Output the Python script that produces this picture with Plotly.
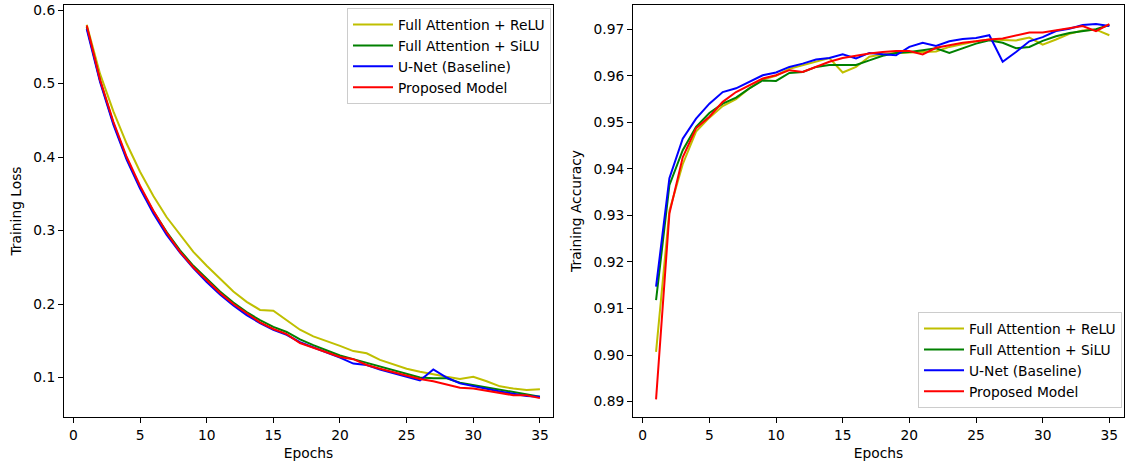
import plotly.graph_objects as go

epochs = list(range(1, 36))

loss_relu = [0.580, 0.513, 0.462, 0.418, 0.380, 0.347, 0.318, 0.294, 0.271, 0.252,
             0.235, 0.217, 0.203, 0.192, 0.191, 0.178, 0.165, 0.156, 0.150, 0.143,
             0.136, 0.133, 0.124, 0.118, 0.112, 0.108, 0.104, 0.101, 0.098, 0.101,
             0.095, 0.088, 0.085, 0.083, 0.084]
loss_silu = [0.577, 0.504, 0.446, 0.398, 0.359, 0.326, 0.298, 0.273, 0.252, 0.234,
             0.217, 0.202, 0.189, 0.178, 0.169, 0.162, 0.152, 0.144, 0.137, 0.130,
             0.125, 0.120, 0.116, 0.110, 0.105, 0.100, 0.099, 0.099, 0.093, 0.090,
             0.087, 0.084, 0.081, 0.078, 0.074]
loss_unet = [0.574, 0.502, 0.444, 0.396, 0.357, 0.323, 0.294, 0.270, 0.249, 0.230,
             0.213, 0.198, 0.185, 0.174, 0.165, 0.158, 0.148, 0.141, 0.135, 0.127,
             0.119, 0.117, 0.111, 0.106, 0.101, 0.096, 0.111, 0.100, 0.092, 0.088,
             0.085, 0.081, 0.078, 0.075, 0.074]
loss_proposed = [0.579, 0.505, 0.448, 0.400, 0.361, 0.327, 0.297, 0.271, 0.250, 0.232,
                 0.215, 0.200, 0.187, 0.175, 0.166, 0.159, 0.147, 0.141, 0.135, 0.128,
                 0.125, 0.117, 0.112, 0.107, 0.102, 0.098, 0.095, 0.090, 0.086, 0.085,
                 0.082, 0.079, 0.076, 0.076, 0.072]

acc_relu = [0.9007, 0.9310, 0.9410, 0.9480, 0.9510, 0.9535, 0.9550, 0.9573, 0.9592, 0.9600,
            0.9615, 0.9623, 0.9630, 0.9638, 0.9607, 0.9619, 0.9641, 0.9646, 0.9649, 0.9650,
            0.9652, 0.9652, 0.9662, 0.9668, 0.9674, 0.9678, 0.9677, 0.9676, 0.9682, 0.9667,
            0.9678, 0.9690, 0.9697, 0.9699, 0.9687]
acc_silu = [0.9118, 0.9365, 0.9440, 0.9490, 0.9520, 0.9540, 0.9553, 0.9573, 0.9590, 0.9589,
            0.9606, 0.9608, 0.9619, 0.9623, 0.9623, 0.9623, 0.9633, 0.9643, 0.9649, 0.9651,
            0.9655, 0.9659, 0.9649, 0.9659, 0.9669, 0.9676, 0.9671, 0.9659, 0.9662, 0.9675,
            0.9685, 0.9692, 0.9696, 0.9700, 0.9709]
acc_unet = [0.9147, 0.9380, 0.9465, 0.9508, 0.9540, 0.9565, 0.9573, 0.9587, 0.9601, 0.9607,
            0.9619, 0.9626, 0.9635, 0.9638, 0.9646, 0.9637, 0.9649, 0.9646, 0.9644, 0.9662,
            0.9671, 0.9664, 0.9674, 0.9679, 0.9681, 0.9687, 0.9630, 0.9651, 0.9674, 0.9683,
            0.9696, 0.9701, 0.9709, 0.9711, 0.9707]
acc_proposed = [0.8905, 0.9304, 0.9425, 0.9487, 0.9512, 0.9544, 0.9565, 0.9580, 0.9594, 0.9601,
                0.9612, 0.9608, 0.9619, 0.9630, 0.9638, 0.9643, 0.9648, 0.9651, 0.9653, 0.9653,
                0.9646, 0.9660, 0.9666, 0.9671, 0.9674, 0.9678, 0.9680, 0.9687, 0.9693, 0.9693,
                0.9698, 0.9703, 0.9707, 0.9696, 0.9711]

names = ["Full Attention + ReLU", "Full Attention + SiLU", "U-Net (Baseline)", "Proposed Model"]
colors = ["#bfbf00", "#008000", "#0000ff", "#ff0000"]
loss_series = [loss_relu, loss_silu, loss_unet, loss_proposed]
acc_series = [acc_relu, acc_silu, acc_unet, acc_proposed]

W, H = 1128, 467
FONT = "DejaVu Sans"
FS = 13.8

fig = go.Figure()
for name, col, ys in zip(names, colors, loss_series):
    fig.add_trace(go.Scatter(x=epochs, y=ys, mode="lines", name=name,
                             line=dict(color=col, width=2), xaxis="x", yaxis="y",
                             legend="legend"))
for name, col, ys in zip(names, colors, acc_series):
    fig.add_trace(go.Scatter(x=epochs, y=ys, mode="lines", name=name,
                             line=dict(color=col, width=2), xaxis="x2", yaxis="y2",
                             legend="legend2"))

axis_common = dict(showline=True, mirror=True, linecolor="black", linewidth=1,
                   ticks="outside", ticklen=5, tickwidth=1, tickcolor="black",
                   showgrid=False, zeroline=False, automargin=False,
                   tickfont=dict(family=FONT, size=FS, color="black"))

fig.update_layout(
    width=W, height=H,
    margin=dict(l=0, r=0, t=5, b=50),
    paper_bgcolor="white", plot_bgcolor="white",
    font=dict(family=FONT, size=FS, color="black"),
    xaxis=dict(domain=[64 / W, 553 / W], range=[-0.705, 35.98],
               tickvals=[0, 5, 10, 15, 20, 25, 30, 35],
               title=dict(text="Epochs", font=dict(size=FS), standoff=6),
               anchor="y", **axis_common),
    yaxis=dict(domain=[0, 1], range=[0.0463, 0.6068],
               tickvals=[0.1, 0.2, 0.3, 0.4, 0.5, 0.6],
               tickformat=".1f",
               title=dict(text="Training Loss", font=dict(size=FS), standoff=8),
               anchor="x", **axis_common),
    xaxis2=dict(domain=[633 / W, 1124 / W], range=[-0.73, 36.1],
                tickvals=[0, 5, 10, 15, 20, 25, 30, 35],
                title=dict(text="Epochs", font=dict(size=FS), standoff=6),
                anchor="y2", **axis_common),
    yaxis2=dict(domain=[0, 1], range=[0.8867, 0.9752],
                tickvals=[0.89, 0.90, 0.91, 0.92, 0.93, 0.94, 0.95, 0.96, 0.97],
                tickformat=".2f",
                title=dict(text="Training Accuracy", font=dict(size=FS), standoff=8),
                anchor="x2", **axis_common),
    legend=dict(x=551 / W, y=(417 - 8) / 412, xanchor="right", yanchor="top",
                bgcolor="rgba(255,255,255,0.8)", bordercolor="#cccccc", borderwidth=1,
                font=dict(family=FONT, size=FS), tracegroupgap=0, itemwidth=40),
    legend2=dict(x=1122 / W, y=(417 - 408) / 412, xanchor="right", yanchor="bottom",
                 bgcolor="rgba(255,255,255,0.8)", bordercolor="#cccccc", borderwidth=1,
                 font=dict(family=FONT, size=FS), tracegroupgap=0, itemwidth=40),
    showlegend=True,
)

fig.write_html("out.html", config={"displayModeBar": False},
               post_script="document.body.style.margin='0';document.body.style.padding='0';")
